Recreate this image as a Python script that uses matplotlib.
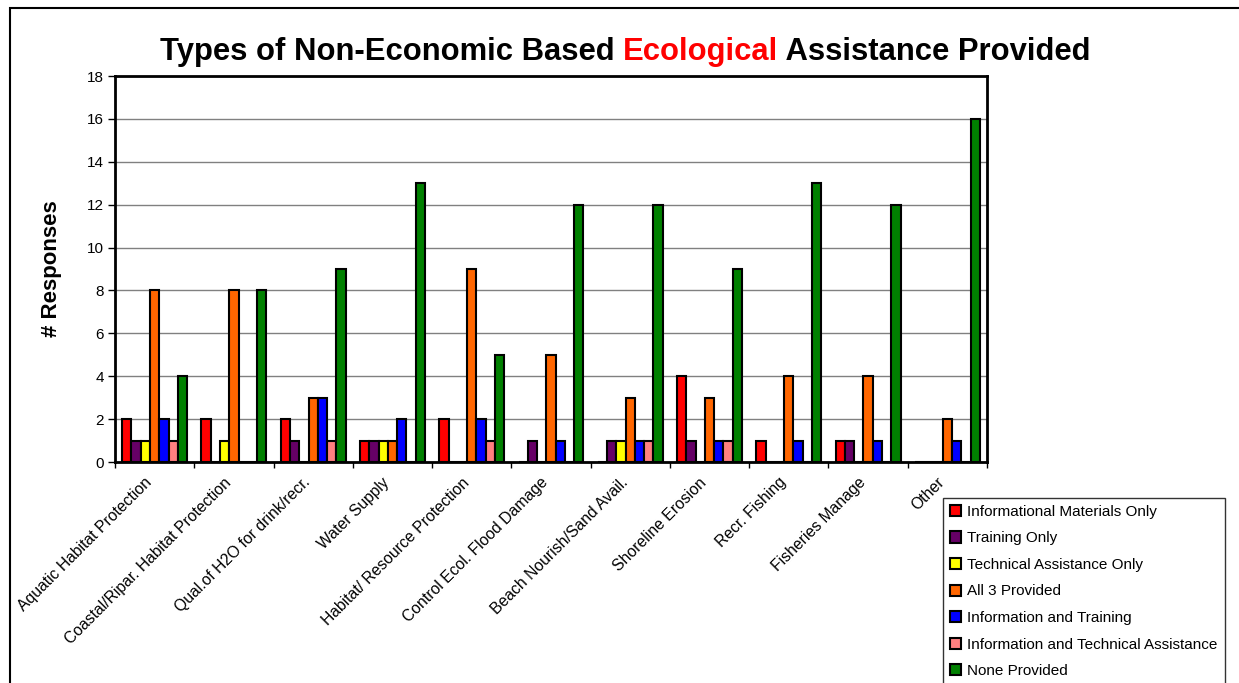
import matplotlib
matplotlib.use("Agg")
import matplotlib.pyplot as plt
import matplotlib.patches as mpatches
import matplotlib.transforms as mtransforms
import numpy as np

plt.rcParams['font.family'] = ['Liberation Sans', 'DejaVu Sans']

# Data
categories = [
    "Aquatic Habitat Protection",
    "Coastal/Ripar. Habitat Protection",
    "Qual.of H2O for drink/recr.",
    "Water Supply",
    "Habitat/ Resource Protection",
    "Control Ecol. Flood Damage",
    "Beach Nourish/Sand Avail.",
    "Shoreline Erosion",
    "Recr. Fishing",
    "Fisheries Manage",
    "Other",
]
series_names = [
    "Informational Materials Only",
    "Training Only",
    "Technical Assistance Only",
    "All 3 Provided",
    "Information and Training",
    "Information and Technical Assistance",
    "None Provided",
]
info_only = [2, 2, 2, 1, 2, 0, 0, 4, 1, 1, 0]
training_only = [1, 0, 1, 1, 0, 1, 1, 1, 0, 1, 0]
tech_only = [1, 1, 0, 1, 0, 0, 1, 0, 0, 0, 0]
all_three = [8, 8, 3, 1, 9, 5, 3, 3, 4, 4, 2]
info_training = [2, 0, 3, 2, 2, 1, 1, 1, 1, 1, 1]
info_tech = [1, 0, 1, 0, 1, 0, 1, 1, 0, 0, 0]
none_provided = [4, 8, 9, 13, 5, 12, 12, 9, 13, 12, 16]

series = [info_only, training_only, tech_only, all_three,
          info_training, info_tech, none_provided]
colors = ["#ff0000", "#660066", "#ffff00", "#ff6600",
          "#0000ff", "#ff8080", "#008000"]

fig = plt.figure(figsize=(12.39, 6.83), dpi=100)
W, H = 1239, 683
ax = fig.add_axes([115 / W, 1 - 462 / H, (987 - 115) / W, (462 - 76) / H])

x = np.arange(len(categories))
bw = 0.117
for i, (vals, col, name) in enumerate(zip(series, colors, series_names)):
    ax.bar(x + (i - 3) * bw, vals, width=bw, color=col, edgecolor="black",
           linewidth=1.5, label=name, zorder=3)

ax.set_xlim(-0.5, len(categories) - 0.5)
ax.set_ylim(0, 18)
ax.set_yticks(np.arange(0, 19, 2))
ax.yaxis.grid(True, color="#808080", linewidth=1, zorder=0)
ax.tick_params(axis="y", labelsize=11, length=5, width=1, direction="out", pad=3)

# group boundary ticks, labels at group centres
ax.set_xticks(np.arange(-0.5, len(categories), 1.0))
ax.set_xticklabels([])
ax.tick_params(axis="x", which="major", length=4, width=1, direction="out")
ax.set_xticks(x, minor=True)
ax.set_xticklabels(categories, minor=True, rotation=45, ha="right",
                   va="center", rotation_mode="anchor", fontsize=11.3)
ax.tick_params(axis="x", which="minor", length=0, pad=13)
shift = mtransforms.ScaledTranslation(-5 / 100, 0, fig.dpi_scale_trans)
for lbl in ax.get_xticklabels(minor=True):
    lbl.set_transform(lbl.get_transform() + shift)

for side in ["left", "right", "top", "bottom"]:
    ax.spines[side].set_linewidth(2)
    ax.spines[side].set_color("black")

ax.set_ylabel("# Responses", fontsize=16, fontweight="bold", labelpad=18)

# title with red word
fig.canvas.draw()
renderer = fig.canvas.get_renderer()
parts = [("Types of Non-Economic Based ", "black"),
         ("Ecological", "#ff0000"),
         (" Assistance Provided", "black")]
texts = []
for s, c in parts:
    texts.append(fig.text(0, 1 - 60 / H, s, color=c, fontsize=22.3,
                          fontweight="bold", va="baseline", ha="left"))
widths = [t.get_window_extent(renderer).width for t in texts]
start = 625 - sum(widths) / 2
for t, w in zip(texts, widths):
    t.set_x(start / W)
    start += w

leg = fig.legend(loc="upper left", bbox_to_anchor=(943 / W, 1 - 498 / H),
                 fontsize=11, frameon=True, fancybox=False,
                 handlelength=0.75, handleheight=0.75, handletextpad=0.4,
                 labelspacing=0.82, borderpad=0.45, borderaxespad=0)
leg.get_frame().set_edgecolor("black")
leg.get_frame().set_linewidth(1)

# outer chart border
fig.patches.append(mpatches.Rectangle((10 / W, -0.1), 1.2, 1 - 8 / H + 0.1,
                                      transform=fig.transFigure, fill=False,
                                      edgecolor="black", linewidth=1.5))

fig.savefig("out.png", dpi=100)
